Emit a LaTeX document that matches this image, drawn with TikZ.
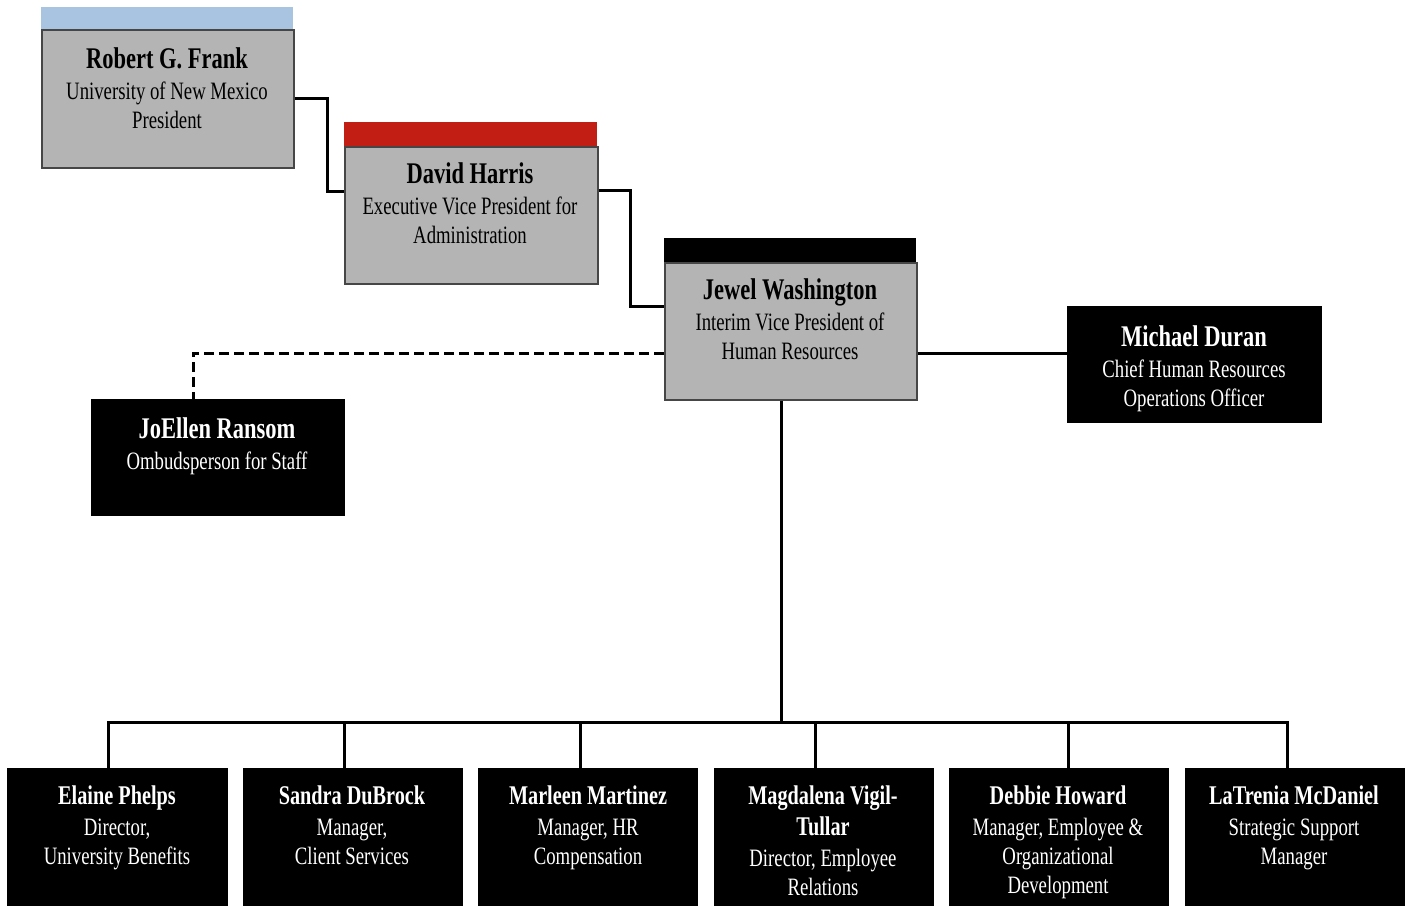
\documentclass[tikz,border=0pt]{standalone}
\usepackage{fontspec}
\newfontfamily\orgfont{Liberation Serif}[FakeStretch=0.75]
\usetikzlibrary{calc}
\definecolor{boxgrey}{RGB}{180,180,180}
\definecolor{edgegrey}{RGB}{70,70,70}
\definecolor{barblue}{RGB}{168,196,224}
\definecolor{barred}{RGB}{194,30,20}
\newcommand{\orgnameL}[1]{{\fontsize{30}{30}\selectfont\bfseries #1}}
\newcommand{\orgnameS}[1]{{\fontsize{27}{29}\selectfont\bfseries #1}}
\begin{document}
\begin{tikzpicture}[x=1pt,y=-1pt,
  greybox/.style={draw=edgegrey, line width=1.5pt, fill=boxgrey, anchor=north west, inner sep=0pt},
  blackbox/.style={draw=black, fill=black, anchor=north west, inner sep=0pt},
  hbar/.style={anchor=south west, inner sep=0pt, draw=none},
  conn/.style={line width=3pt, line join=miter, draw=black},
  dashconn/.style={conn, dash pattern=on 10pt off 5pt},
  darktext/.style={anchor=north, inner sep=0pt, align=center, text=black, font=\orgfont\fontsize{25}{29}\selectfont},
  lighttext/.style={darktext, text=white}]
\clip (0,0) rectangle (1410,905);
\fill[white] (0,0) rectangle (1410,905);

% top chain
\node[greybox, minimum width=252pt, minimum height=138pt] (rgf) at (41,29) {};
\node[hbar, fill=barblue, minimum width=252pt, minimum height=22pt] (rgfbar) at (rgf.north west) {};
\node[darktext] (rgft) at (167,47) {\orgnameL{Robert G. Frank}\\[2pt] University of New Mexico\\ President};

\node[greybox, minimum width=253pt, minimum height=137pt] (dh) at (344,146) {};
\node[hbar, fill=barred, minimum width=253pt, minimum height=24pt] (dhbar) at (dh.north west) {};
\node[darktext] (dht) at (470,162) {\orgnameL{David Harris}\\[2pt] Executive Vice President for\\ Administration};

\node[greybox, minimum width=252pt, minimum height=137pt] (jw) at (664,262) {};
\node[hbar, fill=black, minimum width=252pt, minimum height=24pt] (jwbar) at (jw.north west) {};
\node[darktext] (jwt) at (790,278) {\orgnameL{Jewel Washington}\\[2pt] Interim Vice President of\\ Human Resources};

% side boxes
\node[blackbox, minimum width=254pt, minimum height=116pt] (md) at (1067,306) {};
\node[lighttext] (mdt) at (1194,325) {\orgnameL{Michael Duran}\\[2pt] Chief Human Resources\\ Operations Officer};

\node[blackbox, minimum width=253pt, minimum height=116pt] (jr) at (91,399) {};
\node[lighttext] (jrt) at (217,417) {\orgnameL{JoEllen Ransom}\\[2pt] Ombudsperson for Staff};

% bottom row
\node[blackbox, minimum width=220pt, minimum height=145pt] (ep) at (7,768) {};
\node[lighttext] (ept) at (117,786) {\orgnameS{Elaine Phelps}\\[2pt] Director,\\ University Benefits};
\node[blackbox, minimum width=219pt, minimum height=145pt] (sd) at (243,768) {};
\node[lighttext] (sdt) at (352,786) {\orgnameS{Sandra DuBrock}\\[2pt] Manager,\\ Client Services};
\node[blackbox, minimum width=219pt, minimum height=145pt] (mm) at (478,768) {};
\node[lighttext] (mmt) at (588,786) {\orgnameS{Marleen Martinez}\\[2pt] Manager, HR\\ Compensation};
\node[blackbox, minimum width=219pt, minimum height=145pt] (mv) at (714,768) {};
\node[lighttext] (mvt) at (823,786) {\orgnameS{Magdalena Vigil-}\\[2pt] \orgnameS{Tullar}\\[2pt] Director, Employee\\ Relations};
\node[blackbox, minimum width=219pt, minimum height=145pt] (dbh) at (949,768) {};
\node[lighttext] (dbht) at (1058,786) {\orgnameS{Debbie Howard}\\[2pt] Manager, Employee \&\\ Organizational\\ Development};
\node[blackbox, minimum width=219pt, minimum height=145pt] (lm) at (1185,768) {};
\node[lighttext] (lmt) at (1294,786) {\orgnameS{LaTrenia McDaniel}\\[2pt] Strategic Support\\ Manager};

% connectors
\draw[conn] (rgf.east) -| (327,191) -- (dh.west |- 0,191);
\draw[conn] (dh.east |- 0,190) -| (630,306) -- (jw.west |- 0,306);
\draw[dashconn] (jw.west |- 0,353) -| (jr.north -| 193,0);
\draw[conn] (jw.east |- 0,353) -- (md.west |- 0,353);
\coordinate (bus) at (781,722);
\draw[conn] (jw.south -| 781,0) -- (bus);
\draw[conn] (ep.north -| 108,0) |- (bus) -| (lm.north -| 1287,0);
\draw[conn] (sd.north -| 344,0) -- (344,722);
\draw[conn] (mm.north -| 580,0) -- (580,722);
\draw[conn] (mv.north -| 815,0) -- (815,722);
\draw[conn] (dbh.north -| 1068,0) -- (1068,722);
\end{tikzpicture}
\end{document}
